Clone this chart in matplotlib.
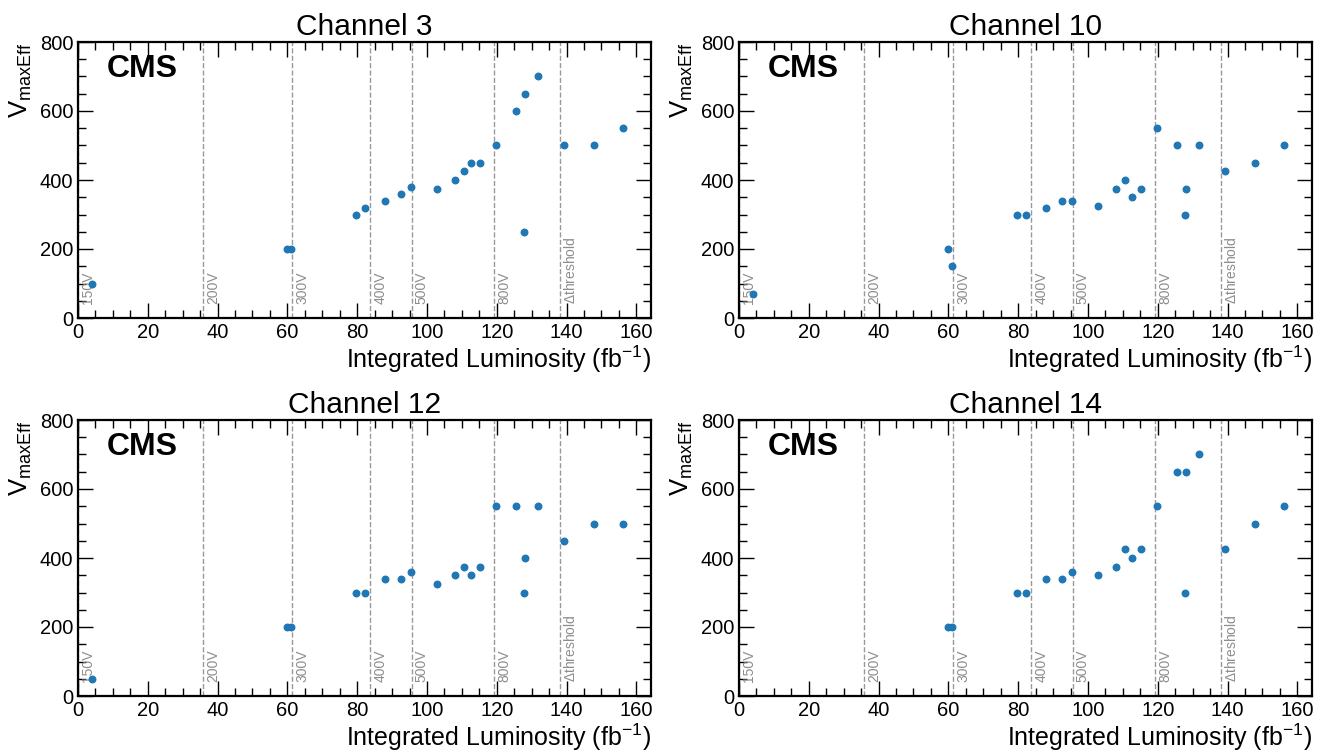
import numpy as np
import matplotlib
matplotlib.use("Agg")
import matplotlib.pyplot as plt
from matplotlib.ticker import MultipleLocator

plt.rcParams['font.family'] = ['Liberation Sans', 'DejaVu Sans']
plt.rcParams['mathtext.default'] = 'regular'

lumi = [4.1, 59.8, 61.1, 79.8, 82.2, 87.9, 92.6, 95.4, 102.8, 108.1, 110.5,
        112.5, 115.2, 119.8, 125.5, 127.9, 128.1, 131.7, 139.2, 147.8, 156.1]

channels = ["Channel 3", "Channel 10", "Channel 12", "Channel 14"]
vmax_ch3 = [100, 200, 200, 300, 320, 340, 360, 380, 375, 400, 425,
            450, 450, 500, 600, 250, 650, 700, 500, 500, 550]
vmax_ch10 = [70, 200, 150, 300, 300, 320, 340, 340, 325, 375, 400,
             350, 375, 550, 500, 300, 375, 500, 425, 450, 500]
vmax_ch12 = [50, 200, 200, 300, 300, 340, 340, 360, 325, 350, 375,
             350, 375, 550, 550, 300, 400, 550, 450, 500, 500]
vmax_ch14 = [np.nan, 200, 200, 300, 300, 340, 340, 360, 350, 375, 425,
             400, 425, 550, 650, 300, 650, 700, 425, 500, 550]
series = [vmax_ch3, vmax_ch10, vmax_ch12, vmax_ch14]

line_x = [0.0, 35.8, 61.4, 83.7, 95.6, 119.2, 138.1]
line_labels = ["150V", "200V", "300V", "400V", "500V", "800V", r"$\Delta$threshold"]

fig = plt.figure(figsize=(13.25, 7.54), dpi=100)
lefts = [78/1325, 739/1325]
bottoms = [1-318/754, 1-696/754]
w = 573/1325
h = 276/754
positions = [(lefts[0], bottoms[0]), (lefts[1], bottoms[0]),
             (lefts[0], bottoms[1]), (lefts[1], bottoms[1])]

for (l, b), name, vals in zip(positions, channels, series):
    ax = fig.add_axes([l, b, w, h])
    for xv, lab in zip(line_x, line_labels):
        ax.axvline(xv, color='gray', ls='--', lw=1.0, alpha=0.8, zorder=1)
        ax.text(xv + 0.9, 40, lab, rotation=90, ha='left', va='bottom',
                fontsize=10, color='gray', alpha=0.9)
    ax.scatter(lumi, vals, s=22, color='#1f77b4', zorder=3)
    ax.set_xlim(0, 164.2)
    ax.set_ylim(0, 800)
    ax.xaxis.set_major_locator(MultipleLocator(20))
    ax.xaxis.set_minor_locator(MultipleLocator(5))
    ax.yaxis.set_major_locator(MultipleLocator(200))
    ax.yaxis.set_minor_locator(MultipleLocator(50))
    ax.tick_params(which='both', direction='in', top=True, right=True,
                   labelsize=14.5, width=1.0)
    ax.tick_params(which='major', length=11)
    ax.tick_params(which='minor', length=6)
    for sp in ax.spines.values():
        sp.set_linewidth(1.6)
    ax.set_title(name, fontsize=21.5, pad=5)
    ax.set_xlabel(r"Integrated Luminosity (fb$^{-1}$)", fontsize=18, loc='right',
                  labelpad=1.5)
    ax.set_ylabel(r"V$_{maxEff}$", fontsize=18.5, loc='top')
    ax.text(0.05, 0.955, "CMS", transform=ax.transAxes, fontsize=23,
            fontweight='bold', ha='left', va='top')

fig.savefig("out.png", dpi=100)
